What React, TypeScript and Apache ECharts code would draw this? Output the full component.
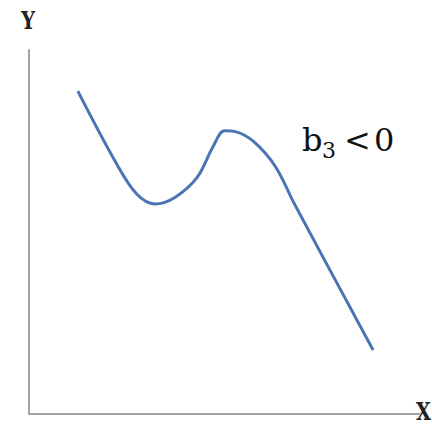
import React, { useEffect, useRef } from "react";
import * as echarts from "echarts";

const curveX = [12.5, 22, 27.5, 32.2, 37.3, 43, 47, 50, 53, 57.5, 63, 68, 88];
const curveY = [88.7, 69.5, 60.5, 57.7, 59.5, 65, 73.3, 77.8, 77.5, 74.8, 68, 57.5, 17.6];
const axisNames = { x: "X", y: "Y" };
const annotation = { base: "b", sub: "3", op: "<", value: "0" };

const serif = "'DejaVu Serif', serif";

export default function App() {
  const ref = useRef<HTMLDivElement>(null);
  useEffect(() => {
    if (!ref.current) return;
    const chart = echarts.init(ref.current, undefined, { renderer: "svg" });
    const data = curveX.map((x, i) => [x, curveY[i]]);
    const glyph = (text: string, x: number, baseline: number, size: number) => ({
      type: "text",
      x,
      y: baseline - 0.346 * size,
      style: {
        text,
        font: `${size}px ${serif}`,
        fill: "#111",
        textAlign: "left",
        textVerticalAlign: "middle",
      },
    });
    const axisLabel = (text: string, x: number, y: number, align: string) => ({
      type: "text",
      x,
      y,
      scaleX: 0.8,
      style: {
        text,
        fontSize: 24,
        fontWeight: 700,
        fontFamily: "'DejaVu Serif'",
        fill: "#222",
        textAlign: align,
        textVerticalAlign: "middle",
      },
    });
    chart.setOption({
      animation: false,
      backgroundColor: "#ffffff",
      grid: { left: 29, right: 12, top: 50, bottom: 14 },
      xAxis: {
        type: "value",
        min: 0,
        max: 100,
        axisLine: { show: true, lineStyle: { color: "#a3a3a3", width: 2 } },
        axisTick: { show: false },
        axisLabel: { show: false },
        splitLine: { show: false },
      },
      yAxis: {
        type: "value",
        min: 0,
        max: 100,
        axisLine: { show: true, lineStyle: { color: "#a3a3a3", width: 2 } },
        axisTick: { show: false },
        axisLabel: { show: false },
        splitLine: { show: false },
      },
      series: [
        {
          type: "line",
          data,
          smooth: 0.35,
          showSymbol: false,
          lineStyle: { color: "#4a74b4", width: 3 },
        },
      ],
      graphic: [
        axisLabel(axisNames.y, 28, 21, "center"),
        axisLabel(axisNames.x, 416, 412, "left"),
        glyph(annotation.base, 302, 151, 32),
        glyph(annotation.sub, 322, 158, 22),
        glyph(annotation.op, 344, 151, 32),
        glyph(annotation.value, 374, 151, 32),
      ],
    });
    return () => chart.dispose();
  }, []);
  return <div ref={ref} style={{ position: "fixed", left: 0, top: 0, width: 432, height: 428 }} />;
}
